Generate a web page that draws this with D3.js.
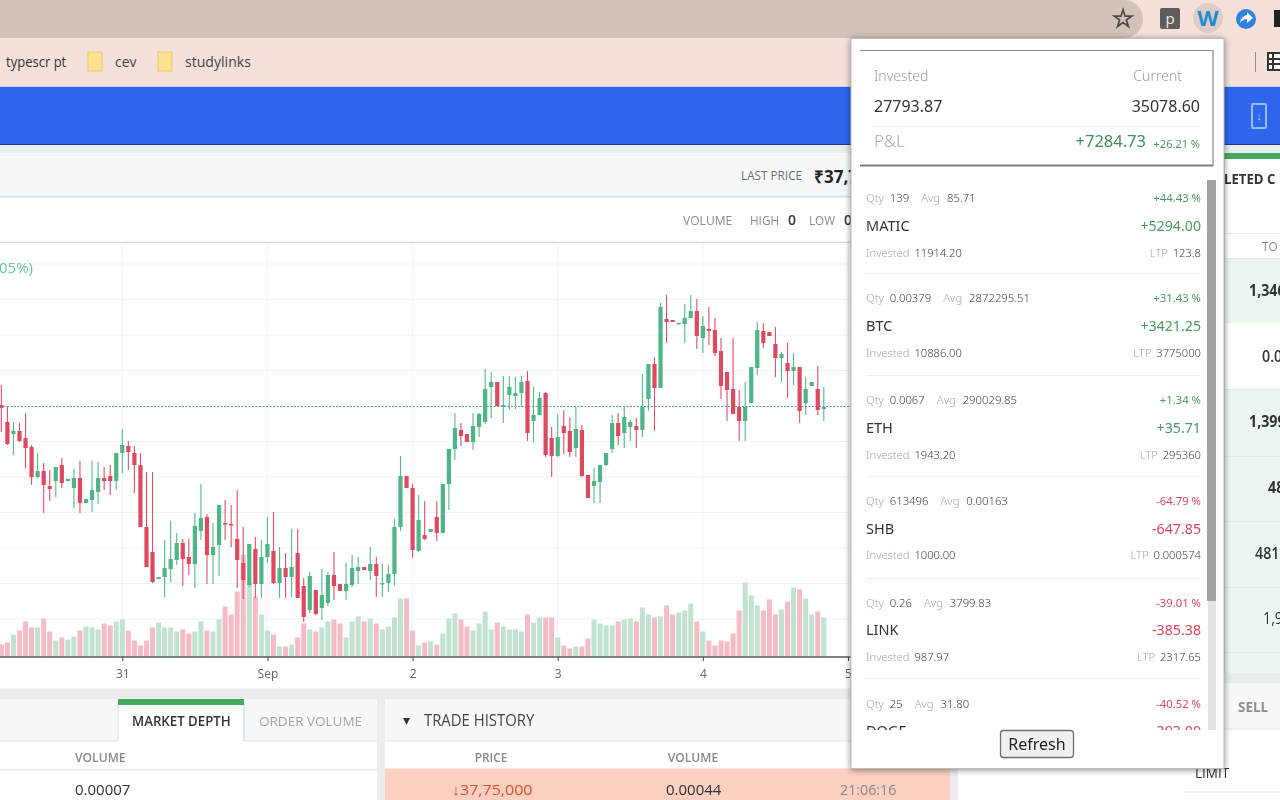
<!DOCTYPE html>
<html><head><meta charset="utf-8">
<script src="https://cdn.jsdelivr.net/npm/d3@7"></script>
<style>
html,body{margin:0;padding:0;background:#fff;overflow:hidden}
svg{display:block;filter:blur(.45px)}
</style></head><body>
<svg id="c" width="1280" height="800"></svg>
<script>
// Hourly candles, prices in ₹ thousand, first candle 30 Aug 04:00
const opens=[3777,3760,3748,3751,3744,3735,3705,3711,3696,3701,3717,3701,3694,3704,3679,3682,3690,3704,3706,3701,3729,3736,3729,3717,3655,3630,3603,3605,3613,3622,3639,3625,3618,3651,3665,3627,3637,3659,3658,3643,3619,3597,3633,3598,3625,3631,3599,3614,3605,3629,3596,3572,3592,3574,3579,3607,3598,3591,3597,3611,3615,3611,3618,3598,3599,3608,3655,3706,3694,3631,3647,3650,3665,3649,3698,3733,3752,3748,3740,3755,3760,3795,3800,3775,3787,3786,3789,3801,3761,3767,3789,3744,3726,3756,3751,3734,3752,3707,3696,3700,3717,3733,3759,3749,3755,3756,3752,3783,3818,3794,3863,3862,3858,3858,3864,3871,3844,3853,3852,3831,3810,3793,3775,3761,3779,3814,3851,3850,3838,3824,3819,3811,3815,3779,3796,3793,3773];
const highs=[3797,3775,3760,3759,3769,3737,3729,3719,3712,3715,3724,3703,3713,3721,3683,3721,3720,3715,3717,3729,3753,3741,3736,3729,3710,3710,3605,3642,3661,3649,3643,3643,3669,3698,3668,3659,3677,3682,3677,3692,3655,3638,3645,3642,3665,3670,3635,3629,3653,3653,3604,3610,3592,3613,3610,3630,3598,3619,3627,3625,3615,3635,3625,3618,3617,3663,3726,3706,3698,3687,3681,3653,3681,3698,3733,3769,3759,3748,3769,3769,3813,3810,3800,3806,3806,3805,3806,3811,3795,3790,3790,3755,3768,3772,3765,3775,3757,3707,3714,3717,3729,3767,3769,3775,3762,3764,3808,3818,3825,3879,3887,3862,3859,3878,3887,3883,3866,3875,3864,3844,3810,3844,3792,3800,3815,3860,3859,3850,3855,3830,3839,3829,3815,3805,3800,3816,3795];
const lows=[3750,3737,3727,3740,3714,3697,3704,3669,3681,3685,3694,3701,3674,3669,3679,3670,3678,3692,3687,3692,3709,3712,3689,3655,3615,3599,3603,3585,3600,3617,3596,3607,3594,3642,3598,3598,3606,3642,3635,3594,3583,3595,3584,3584,3619,3598,3584,3584,3585,3584,3560,3569,3567,3562,3576,3582,3591,3582,3595,3598,3612,3602,3585,3585,3590,3596,3651,3694,3624,3630,3642,3650,3641,3649,3672,3722,3736,3740,3732,3745,3758,3764,3776,3759,3772,3773,3775,3741,3740,3767,3725,3705,3725,3728,3725,3725,3705,3684,3679,3679,3716,3729,3737,3734,3741,3734,3745,3771,3751,3794,3839,3860,3858,3839,3864,3833,3829,3837,3826,3783,3761,3768,3741,3741,3779,3807,3834,3846,3805,3800,3784,3797,3759,3767,3796,3767,3761];
const closes=[3774,3738,3751,3741,3734,3705,3711,3697,3693,3715,3699,3703,3704,3679,3683,3692,3704,3701,3701,3729,3737,3730,3717,3655,3615,3600,3605,3614,3623,3639,3623,3618,3656,3664,3627,3635,3677,3658,3657,3622,3602,3638,3598,3625,3638,3599,3614,3605,3615,3584,3565,3606,3568,3587,3607,3596,3591,3598,3614,3615,3612,3618,3606,3599,3608,3655,3706,3694,3632,3662,3643,3653,3649,3698,3733,3754,3746,3740,3756,3768,3793,3800,3776,3777,3795,3789,3800,3749,3767,3784,3727,3726,3745,3749,3730,3753,3706,3684,3701,3717,3729,3759,3746,3765,3760,3752,3775,3818,3794,3875,3860,3860,3859,3864,3871,3846,3856,3851,3829,3796,3792,3768,3761,3775,3815,3852,3839,3846,3824,3828,3811,3815,3771,3793,3800,3772,3775];
const volumes=[12,14,22,26,35,29,29,38,25,16,19,17,20,26,30,29,27,33,31,35,37,26,16,11,16,29,34,29,29,25,27,23,25,35,26,25,37,50,42,65,102,74,60,42,26,22,10,10,12,19,33,27,25,29,35,37,33,19,35,40,35,38,33,27,30,39,58,58,26,11,14,15,12,23,38,43,37,30,26,33,45,27,34,30,27,27,25,42,34,39,39,39,19,11,8,10,10,18,37,33,31,31,35,37,38,35,49,42,39,40,51,42,44,46,53,35,25,16,11,16,15,23,46,74,61,51,46,57,42,47,55,69,67,58,42,45,39];
const priceTicks=[3918,3882.5,3847,3811.5,3776,3740.5,3705,3669.5,3634,3598.5,3563];
const lastPrice=3775.5;
const dayTicks=["2021-08-31","2021-09-01","2021-09-02","2021-09-03","2021-09-04","2021-09-05"];
const dayLabels=["31","Sep","2","3","4","5"];
// Popup holdings
const symbols=["MATIC","BTC","ETH","SHB","LINK","DOGE"];
const qtys=["139","0.00379","0.0067","613496","0.26","25"];
const avgs=["85.71","2872295.51","290029.85","0.00163","3799.83","31.80"];
const pcts=["+44.43 %","+31.43 %","+1.34 %","-64.79 %","-39.01 %","-40.52 %"];
const pnls=["+5294.00","+3421.25","+35.71","-647.85","-385.38","-393.00"];
const invested=["11914.20","10886.00","1943.20","1000.00","987.97",""];
const ltps=["123.8","3775000","295360","0.000574","2317.65",""];

const svg=d3.select("#c");
const F='"Open Sans",sans-serif', S='"Noto Sans",sans-serif';
const rect=(p,x,y,w,h,f,o={})=>{const r=p.append("rect").attr("x",x).attr("y",y).attr("width",w).attr("height",h).attr("fill",f);for(const k in o)r.attr(k,o[k]);return r;};
const line=(p,x1,y1,x2,y2,s,w=1)=>p.append("line").attr("x1",x1).attr("y1",y1).attr("x2",x2).attr("y2",y2).attr("stroke",s).attr("stroke-width",w);
const text=(p,x,y,t,size,fill,o={})=>{const e=p.append("text").attr("x",x).attr("y",y).attr("font-size",size).attr("fill",fill).attr("font-family",o.f||F).attr("text-anchor",o.a||"start").attr("font-weight",o.w||400);if(o.sx)e.attr("transform",`translate(${x},0) scale(${o.sx},1) translate(${-x},0)`);e.text(t);return e;};

// Browser chrome
rect(svg,0,0,1280,86,"#f5e1da");
rect(svg,-20,0,1163,38,"#d3c2ba",{rx:19});
svg.append("path").attr("d",d3.symbol(d3.symbolStar,95)).attr("transform","translate(1123,19)").attr("fill","none").attr("stroke","#4e4a48").attr("stroke-width",1.7);
rect(svg,1160,8,20,21,"#5f5c5a",{rx:2});
text(svg,1170,24,"p",15,"#f2efe9",{a:"middle"});
svg.append("circle").attr("cx",1208).attr("cy",18).attr("r",15).attr("fill","#dfccc5");
text(svg,1208,26,"W",22,"#1f8ecf",{a:"middle",w:700});
svg.append("circle").attr("cx",1246).attr("cy",19).attr("r",10).attr("fill","#2f83e0");
svg.append("path").attr("d","M1240 23 Q1241 16 1247 15 V12 L1253 18 L1247 23 V19 Q1243 19 1240 23Z").attr("fill","#fff");
rect(svg,1274,10,6,17,"#222");
text(svg,6,67,"typescr pt",15,"#333",{sx:.87});
rect(svg,88,52,14,19,"#fce28e",{stroke:"#e6c96e"});
text(svg,115,67,"cev",15,"#444",{sx:.93});
rect(svg,158,52,14,19,"#fce28e",{stroke:"#e6c96e"});
text(svg,185,67,"studylinks",15,"#444",{sx:.94});
line(svg,1255.5,52,1255.5,72,"#9a8f8b");
rect(svg,1268,53,14,17,"#fff",{stroke:"#333","stroke-width":2});
line(svg,1268,59,1282,59,"#333",2);line(svg,1268,64,1282,64,"#333",2);line(svg,1273,53,1273,70,"#333",2);

// App header
rect(svg,0,86,1280,1,"#c8d0ec");
rect(svg,0,87,1280,57,"#2f66ee");
rect(svg,0,144,1280,1,"#1c3c90");
rect(svg,1252,104,14,24,"none",{stroke:"#9cbcf5","stroke-width":2,rx:1});
text(svg,1259,120,"↓",11,"#b5ccf7",{a:"middle"});

// Chart header strips
rect(svg,0,145,1224,8,"#e9eef0");
rect(svg,0,153,1224,43,"#f6f9fb");
rect(svg,0,196,1224,1.5,"#dcdedf");
rect(svg,0,241.5,1224,1.5,"#dcdedf");
text(svg,741,180,"LAST PRICE",12,"#6e6e6e",{sx:.98,w:500});
text(svg,814,183,"₹37,75,000",17,"#222",{w:700});
text(svg,683,225,"VOLUME",13,"#8a8a8a",{sx:.93});
text(svg,750,225,"HIGH",13,"#8a8a8a",{sx:.9});
text(svg,788,225,"0",14,"#333",{w:600});
text(svg,809,225,"LOW",13,"#8a8a8a",{sx:.9});
text(svg,844,225,"0",14,"#333",{w:600});

// Chart
const g=svg.append("g");
const parse=d3.utcParse("%Y-%m-%d");
const x=d3.scaleUtc().domain([parse(dayTicks[0]),parse(dayTicks[5])]).range([122.3,848]);
const y=d3.scaleLinear().domain([3560,3890]).range([622,292]);
const yVol=d3.scaleLinear().domain([0,100]).range([656.5,556.5]);
const start=new Date(Date.UTC(2021,7,30,4));
const candles=opens.map((o,i)=>({t:d3.utcHour.offset(start,i),o,h:highs[i],l:lows[i],c:closes[i],v:volumes[i],up:closes[i]>=o}));
const GRID="#f0f3f6";
g.selectAll(".hg").data(priceTicks).join("line").attr("x1",0).attr("x2",851).attr("y1",d=>y(d)).attr("y2",d=>y(d)).attr("stroke",GRID);
g.selectAll(".vg").data(dayTicks).join("line").attr("x1",d=>x(parse(d))).attr("x2",d=>x(parse(d))).attr("y1",243).attr("y2",657).attr("stroke",GRID);
text(g,-1,273,"05%)",15,"#6cc5a0");
g.selectAll(".vol").data(candles).join("rect").attr("x",d=>x(d.t)-2.5).attr("width",5).attr("y",d=>yVol(d.v)).attr("height",d=>yVol(0)-yVol(d.v)).attr("fill",d=>d.up?"#c2e3d2":"#f6bcc5");
line(g,0,y(lastPrice),851,y(lastPrice),"#559f88",1).attr("stroke-dasharray","2 1.5");
g.selectAll(".wick").data(candles).join("line").attr("x1",d=>x(d.t)).attr("x2",d=>x(d.t)).attr("y1",d=>y(d.h)).attr("y2",d=>y(d.l)).attr("stroke",d=>d.up?"#55b88c":"#d8526a").attr("stroke-width",1.1);
g.selectAll(".body").data(candles).join("rect").attr("x",d=>x(d.t)-2.1).attr("width",4.2).attr("y",d=>y(Math.max(d.o,d.c))).attr("height",d=>Math.max(1.5,Math.abs(y(d.o)-y(d.c)))).attr("fill",d=>d.up?"#4fb488":"#dd4a60");
const axis=d3.axisBottom(x).tickValues(dayTicks.map(parse)).tickSize(4).tickFormat((d,i)=>dayLabels[i]);
const ax=g.append("g").attr("transform","translate(0,657)").call(axis);
ax.select(".domain").remove();
line(ax,0,0,851,0,"#55595c",1.5);
ax.selectAll(".tick line").attr("stroke","#444");
ax.selectAll(".tick text").attr("y",12).attr("font-size",12).attr("font-family",F).attr("fill","#666");

// Lower panels
rect(svg,0,688.5,1224,11,"#e9edf0");
rect(svg,377,699,8,101,"#e9edf0");
rect(svg,950,699,8,101,"#e9edf0");
svg.append("path").attr("d","M0 699 H371 Q377 699 377 705 V741 H0Z").attr("fill","#f6f9fb");
svg.append("path").attr("d","M391 699 H950 V741 H385 V705 Q385 699 391 699Z").attr("fill","#f6f9fb");
line(svg,0,741,377,741,"#e2e5e7");line(svg,385,741,950,741,"#e2e5e7");
rect(svg,118,699,126,43,"#fff");
line(svg,118,704,118,741,"#dfe2e4");line(svg,244,704,244,741,"#cfd2d4");
rect(svg,118,699,126,6,"#45a85f");
text(svg,132,726,"MARKET DEPTH",13.5,"#333",{sx:.98,w:600});
text(svg,259,726,"ORDER VOLUME",13.5,"#a3a5a6",{sx:1});
text(svg,403,725,"▾",14,"#333",{f:'"DejaVu Sans"'});
text(svg,424,726,"TRADE HISTORY",15.5,"#444",{sx:.96});
rect(svg,0,769,377,1.5,"#e8e9ea");
text(svg,75,762,"VOLUME",12.5,"#888",{sx:.97,w:600});
text(svg,75,795,"0.00007",15,"#333",{sx:1});
rect(svg,385,768.5,565,32,"#fdcfc1");
text(svg,491,762,"PRICE",12.5,"#888",{a:"middle",w:600,sx:.95});
text(svg,693,762,"VOLUME",12.5,"#888",{a:"middle",sx:.97,w:600});
text(svg,452,795,"↓37,75,000",15,"#d4512f",{sx:1.07});
text(svg,666,795,"0.00044",15,"#333",{sx:1});
text(svg,840,795,"21:06:16",15,"#888",{sx:.95});

// Right panel
rect(svg,1224,145,56,8,"#e9eef0");
rect(svg,1224,153,56,6,"#45a85f");
rect(svg,1224,159,56,514,"#fff");
text(svg,1224,184,"LETED C",15,"#333",{w:700,sx:.88});
line(svg,1224,233.5,1280,233.5,"#e8e9ea");
text(svg,1262,251,"TO",13,"#888",{sx:.9});
const rowBands=[[258,65,"#ebf6ef"],[389,67,"#ebf6ef"],[456,65,"#ebf6ef"],[521,66,"#ebf6ef"],[587,65,"#ebf6ef"],[652,21,"#ebf6ef"]];
rowBands.forEach(b=>{rect(svg,1224,b[0],56,b[1],b[2]);line(svg,1224,b[0]+.5,1280,b[0]+.5,"#e4e9e6");});
line(svg,1224.5,159,1224.5,673,"#c9cccb");
[[1249,296,"1,346",700],[1262,362,"0.0",600],[1249,427,"1,399",700],[1268,493,"48",700],[1255,559,"481",600],[1263,624,"1,9",500]].forEach(r=>text(svg,r[0],r[1],r[2],15.5,"#333",{w:r[3],sx:.92}));
rect(svg,1224,673,56,10,"#e9edf0");
rect(svg,958,683,322,46,"#f6f9fb");
rect(svg,958,729,322,71,"#fff");
line(svg,958,729,1280,729,"#e2e5e7");
text(svg,1238,712,"SELL",15,"#8c8f91",{w:700,sx:.9});
text(svg,1195,778,"LIMIT",15,"#333",{sx:.9,w:500});
line(svg,1184,792,1280,792,"#e4e6e8");

// Extension popup
rect(svg,851,38.5,373,730,"#fff",{stroke:"#bdbdbd"}).style("filter","drop-shadow(0 1px 3px rgba(0,0,0,.45))");
const pop=svg.append("g");
line(pop,860,50.5,1213,50.5,"#8a8a8a",1.2);
line(pop,1213,50,1213,166,"#9a9a9a",1.4);
line(pop,860,165.5,1213,165.5,"#7b7b7b",2);
text(pop,874,81,"Invested",14,"#9b9b9b",{f:S,w:300});
text(pop,1182,81,"Current",14,"#9b9b9b",{f:S,a:"end",w:300});
text(pop,874,112,"27793.87",16,"#333",{f:S});
text(pop,1200,112,"35078.60",16,"#333",{f:S,a:"end"});
line(pop,874,126.5,1200,126.5,"#eeeeee");
text(pop,874,147,"P&L",17,"#a9a9a9",{f:S,w:300});
text(pop,1146,147,"+7284.73",16.5,"#3f8f57",{f:S,a:"end"});
text(pop,1200,148,"+26.21 %",11,"#4c9560",{f:S,a:"end"});
// scrollbar
rect(pop,1208,180,8,550,"#e3e3e3");
rect(pop,1207,180,9,421,"#a3a3a3");
// holdings
const clip=svg.append("clipPath").attr("id","rows");clip.append("rect").attr("x",853).attr("y",170).attr("width",353).attr("height",560);
const rows=pop.append("g").attr("clip-path","url(#rows)");
const rowTop=[202,302,404,505,607,708], name=[231,331,433,534,635,736], bot=[257,357,459,559,661,762], seps=[273.5,375.5,476.5,578.5,678.5];
seps.forEach(s=>line(rows,866,s,1200,s,"#eeeeee"));
const G="#4a9a62",R="#d9475a",L="#a7a7a7",D="#3e3e3e";
symbols.forEach((s,i)=>{
  const col=pcts[i][0]==="+"?G:R;
  const q=text(rows,866,rowTop[i],"",11.3,L,{f:S,w:300});
  q.append("tspan").text("Qty ");q.append("tspan").attr("dx",3).attr("fill",D).text(qtys[i]);
  q.append("tspan").attr("dx",12).text("Avg ");q.append("tspan").attr("dx",4).attr("fill",D).text(avgs[i]);
  text(rows,866,name[i],s,14.5,"#333",{f:S});
  text(rows,1201,rowTop[i],pcts[i],11.3,col,{f:S,a:"end"});
  text(rows,1201,name[i],pnls[i],14.2,col,{f:S,a:"end"});
  if(invested[i]){
    const v=text(rows,866,bot[i],"",11.2,L,{f:S,w:300});
    v.append("tspan").text("Invested ");v.append("tspan").attr("dx",2).attr("fill",D).text(invested[i]);
    const l=text(rows,1201,bot[i],"",11.2,L,{f:S,a:"end",w:300});
    l.append("tspan").text("LTP ");l.append("tspan").attr("dx",2).attr("fill",D).text(ltps[i]);
  }
});
rect(pop,1000.5,730.5,73,27,"#f0f0f0",{stroke:"#6f6f6f","stroke-width":1.3,rx:3});
text(pop,1037,750,"Refresh",16,"#222",{f:S,a:"middle"});
</script>
</body></html>
